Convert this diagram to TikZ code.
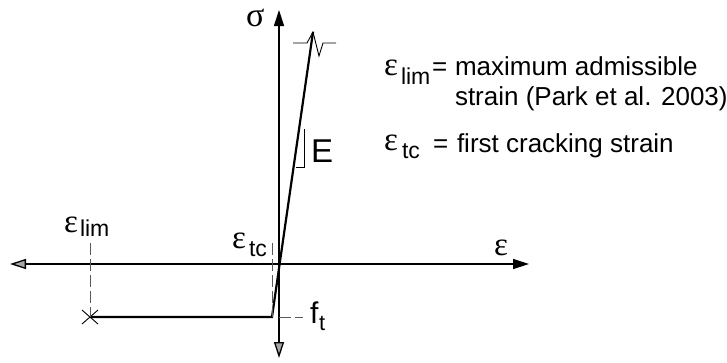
\documentclass[tikz,border=0pt]{standalone}
\usepackage{fontspec}
\setmainfont{Liberation Sans}
\newfontfamily\grk{Liberation Serif}
\usetikzlibrary{arrows.meta,calc}
\tikzset{
  axis/.style={line width=1.3pt},
  blackhead/.style={-{Triangle[length=16pt,width=10pt]}},
  grayhead/.style={-{Triangle[length=16pt,width=10pt,fill=gray!70]}},
  law/.style={line width=2.2pt,line join=miter},
  guide/.style={line width=0.9pt,gray!70!black,dash pattern=on 12pt off 4pt},
  thin/.style={line width=0.9pt},
  lbl/.style={anchor=base west,inner sep=0pt,outer sep=0pt},
}
\newcommand{\fsz}[1]{\fontsize{#1}{#1}\selectfont}
\begin{document}
\begin{tikzpicture}[x=1pt,y=-1pt]
\useasboundingbox (0,0) rectangle (727,362);
% axes
\coordinate (O) at (279,264);
\coordinate (top) at (279,10);
\coordinate (bot) at (279,358);
\coordinate (left) at (10,264);
\coordinate (right) at (529,264);
\draw[axis,blackhead] (O) -- (top);
\draw[axis,grayhead] (O) -- (bot);
\draw[axis,grayhead] (O) -- (left);
\draw[axis,blackhead] (O) -- (right);
% constitutive law
\coordinate (X) at (90,317);
\coordinate (C) at (272,317);
\coordinate (T) at (313,32);
\draw[law] (X) -- (C) -- (T);
% cross
\draw[thin] ($(X)+(-8,-7)$) -- ($(X)+(8,7)$);
\draw[thin] ($(X)+(-8,7)$) -- ($(X)+(8,-7)$);
% break symbol
\coordinate (b1) at (293,43);
\coordinate (b2) at (307,43);
\coordinate (b3) at (319,56);
\coordinate (b4) at (323,43);
\coordinate (b5) at (336,43);
\draw[thin] (b1) -- (b2) -- (T) -- (b3) -- (b4) -- (b5);
% guides
\coordinate (glim) at (90,243);
\coordinate (gtc) at (272,243);
\coordinate (gft) at (303,317);
\draw[guide] (glim) -- (X);
\draw[guide] (gtc) -- (C);
\draw[guide] (O |- C) -- (gft);
% E bracket
\coordinate (e1) at (304,129);
\coordinate (e2) at (304,167);
\coordinate (e3) at (296,167);
\draw[thin] (e1) -- (e2) -- (e3);
% labels
\node[lbl] (sig) at (246,26) {\grk\fsz{34}σ};
\node[lbl] (eps) at (494,255) {\grk\fsz{33}ε};
\node[lbl] (elim) at (64,232) {\grk\fsz{33}ε};
\node[lbl] (elims) at (80,236) {\fsz{23}lim};
\node[lbl] (etc) at (232,248) {\grk\fsz{33}ε};
\node[lbl] (etcs) at (249,256) {\fsz{23}tc};
\node[lbl] (ft) at (310,323) {\fsz{30}f};
\node[lbl] (fts) at (319,330) {\fsz{22}t};
\node[lbl] (E) at (311,162) {\fsz{33}E};
% legend
\node[lbl] (l1e) at (384,75) {\grk\fsz{33}ε};
\node[lbl] (l1s) at (401,84) {\fsz{23}lim};
\node[lbl] (l1q) at (432,75) {\fsz{26}=};
\node[lbl] (l1t) at (455,75) {\fsz{26}maximum admissible};
\node[lbl] (l2t) at (455,105) {\fsz{26}strain (Park et al. 2003)};
\node[lbl] (l3e) at (384,150) {\grk\fsz{33}ε};
\node[lbl] (l3s) at (402,158) {\fsz{23}tc};
\node[lbl] (l3q) at (433,152) {\fsz{26}=};
\node[lbl] (l3t) at (457,152) {\fsz{26}first cracking strain};
\end{tikzpicture}
\end{document}
